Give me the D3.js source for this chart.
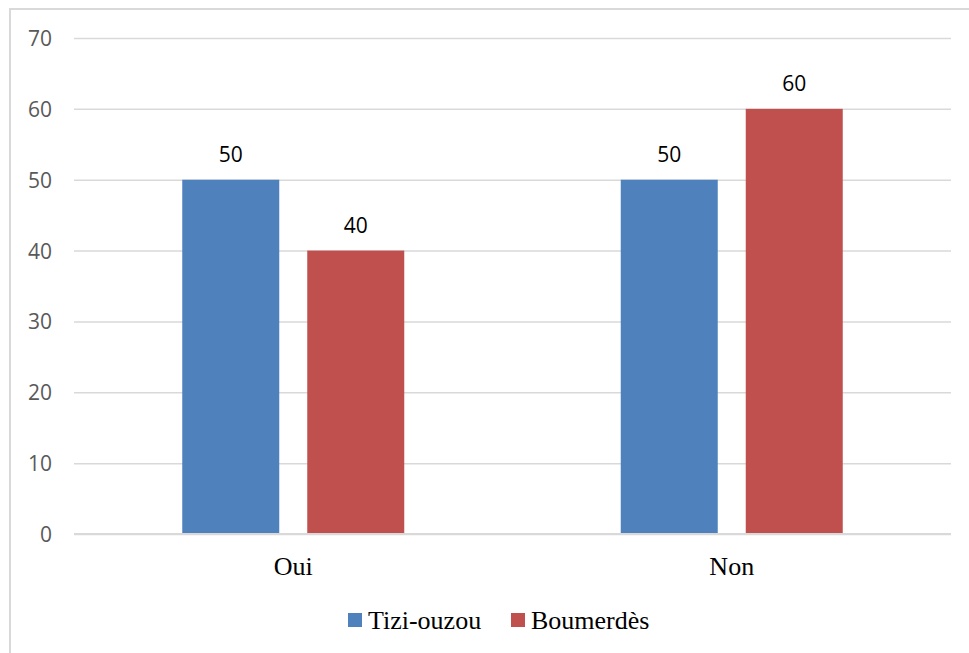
<!DOCTYPE html>
<html>
<head>
<meta charset="utf-8">
<script src="https://cdn.jsdelivr.net/npm/d3@7"></script>
<style>
  html, body { margin: 0; padding: 0; background: #fff; }
  svg { display: block; }
</style>
</head>
<body>
<svg id="chart" width="969" height="653"></svg>
<script>
// Responses by region
const categories = ["Oui", "Non"];
const seriesNames = ["Tizi-ouzou", "Boumerdès"];
const tiziOuzou = [50, 50];
const boumerdes = [40, 60];
const yTicks = [0, 10, 20, 30, 40, 50, 60, 70];
const colors = ["#4f81bd", "#c0504d"];

const series = [tiziOuzou, boumerdes];

const svg = d3.select("#chart");
const W = 969, H = 653;
const plot = { left: 74, right: 951, top: 38, bottom: 534 };
const sansFont = "'Open Sans', 'Liberation Sans', sans-serif";
const serifFont = "'Liberation Serif', 'Times New Roman', serif";

// outer frame (clipped at the right and bottom edges of the page)
svg.append("rect")
  .attr("x", 10).attr("y", 9)
  .attr("width", W + 20).attr("height", H + 20)
  .attr("fill", "none").attr("stroke", "#d9d9d9").attr("stroke-width", 2);

const x0 = d3.scaleBand().domain(categories).range([plot.left, plot.right]).paddingInner(0).paddingOuter(0);
const x1 = d3.scaleBand().domain(seriesNames).range([0, 222]).paddingInner(0.224).paddingOuter(0);
const y = d3.scaleLinear().domain([0, 70]).range([plot.bottom, plot.top]);

// gridlines and value axis labels
const yAxis = d3.axisLeft(y).tickValues(yTicks).tickSize(-(plot.right - plot.left)).tickPadding(22);
const gy = svg.append("g").attr("transform", `translate(${plot.left},0)`).call(yAxis);
gy.select(".domain").remove();
gy.selectAll(".tick line").attr("stroke", "#d9d9d9").attr("stroke-width", 1.5);
gy.selectAll(".tick text")
  .attr("fill", "#595959")
  .attr("dy", "0.36em")
  .style("font-family", sansFont)
  .style("font-size", "21px");

// bars
const groups = svg.append("g").selectAll("g")
  .data(categories)
  .join("g")
  .attr("transform", d => `translate(${x0(d) + (x0.bandwidth() - 222) / 2},0)`);

groups.selectAll("rect")
  .data((d, i) => seriesNames.map((s, j) => ({ s, v: series[j][i], c: colors[j] })))
  .join("rect")
  .attr("x", d => x1(d.s))
  .attr("width", x1.bandwidth())
  .attr("y", d => y(d.v))
  .attr("height", d => y(0) - y(d.v))
  .attr("fill", d => d.c);

// value labels
groups.selectAll("text.lbl")
  .data((d, i) => seriesNames.map((s, j) => ({ s, v: series[j][i] })))
  .join("text")
  .attr("class", "lbl")
  .attr("x", d => x1(d.s) + x1.bandwidth() / 2)
  .attr("y", d => y(d.v) - 18)
  .attr("text-anchor", "middle")
  .attr("fill", "#000")
  .style("font-family", sansFont)
  .style("font-size", "21px")
  .text(d => d.v);

// baseline
svg.append("line")
  .attr("x1", plot.left).attr("x2", plot.right)
  .attr("y1", y(0)).attr("y2", y(0))
  .attr("stroke", "#d9d9d9").attr("stroke-width", 2);

// category axis
const xAxis = d3.axisBottom(x0).tickSize(0);
const gx = svg.append("g").attr("transform", `translate(0,${plot.bottom})`).call(xAxis);
gx.select(".domain").remove();
gx.selectAll(".tick text")
  .attr("y", 41)
  .attr("dy", 0)
  .attr("fill", "#000")
  .style("font-family", serifFont)
  .style("font-size", "26px");

// legend
const legend = svg.append("g");
const legendItems = [
  { name: seriesNames[0], color: colors[0], x: 348 },
  { name: seriesNames[1], color: colors[1], x: 511 }
];
legendItems.forEach(it => {
  legend.append("rect").attr("x", it.x).attr("y", 613).attr("width", 14).attr("height", 14).attr("fill", it.color);
  legend.append("text")
    .attr("x", it.x + 20).attr("y", 629)
    .attr("fill", "#000")
    .style("font-family", serifFont)
    .style("font-size", "26px")
    .text(it.name);
});
</script>
</body>
</html>
